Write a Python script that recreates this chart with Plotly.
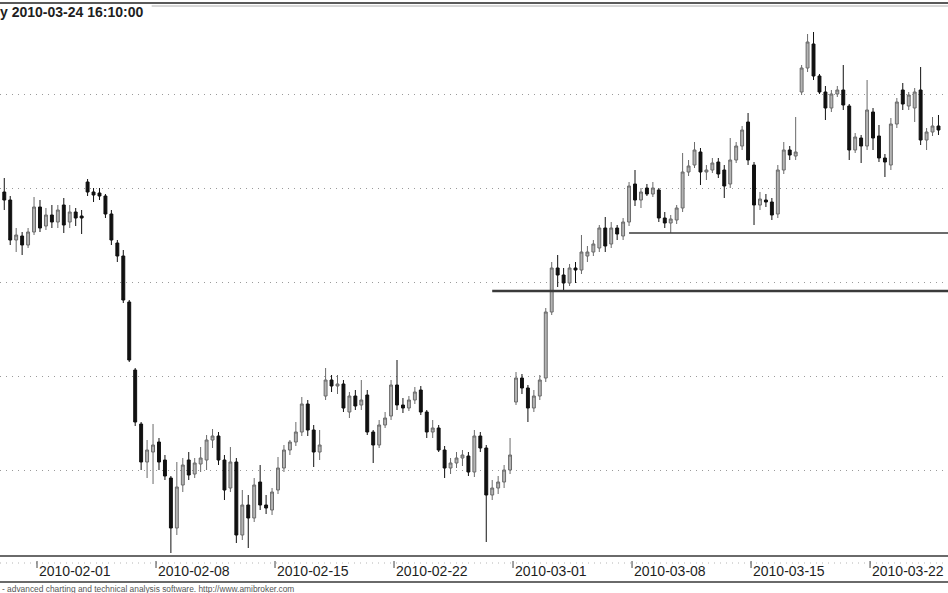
import numpy as np
import pandas as pd
import plotly.graph_objects as go

# ---- data -------------------------------------------------------------
trade_days = pd.bdate_range("2010-01-28", "2010-03-24")
bar_slots = ["10:10", "12:10", "14:10", "16:10"]
stamps = [f"{d:%Y-%m-%d} {s}" for d in trade_days for s in bar_slots][2:]

open_ = [408, 400, 360, 364, 355, 368, 393, 374, 385, 378,
         395, 378, 388, 384, 418, 408, 407, 404, 386, 357,
         344, 298, 230, 176, 138, 148, 158, 140, 122, 72,
         115, 140, 126, 136, 140, 160, 164, 140, 112, 138,
         65, 95, 82, 118, 95, 90, 110, 132, 150, 158,
         168, 196, 170, 148, 204, 220, 214, 216, 188, 204,
         195, 205, 168, 155, 175, 184, 215, 195, 192, 200,
         210, 188, 168, 172, 150, 132, 137, 142, 144, 128,
         164, 152, 105, 112, 118, 130, 198, 222, 212, 192,
         204, 222, 288, 332, 325, 317, 332, 330, 344, 348,
         352, 372, 356, 372, 364, 378, 416, 400, 412, 406,
         410, 382, 377, 380, 392, 428, 435, 448, 428, 430,
         438, 430, 416, 440, 454, 478, 435, 395, 400, 398,
         386, 430, 450, 444, 508, 532, 556, 524, 508, 492,
         506, 510, 494, 450, 462, 454, 488, 464, 442, 435,
         476, 510, 494, 492, 510, 460, 468, 474]
high = [422, 404, 372, 368, 372, 403, 400, 392, 395, 395,
        402, 395, 392, 390, 421, 412, 412, 406, 390, 360,
        350, 300, 232, 178, 160, 176, 162, 145, 124, 138,
        142, 148, 142, 153, 165, 171, 168, 145, 153, 142,
        110, 105, 122, 135, 105, 112, 143, 155, 160, 178,
        203, 200, 175, 170, 232, 225, 225, 220, 208, 210,
        220, 210, 170, 180, 188, 220, 240, 202, 204, 213,
        214, 190, 180, 175, 154, 142, 148, 150, 148, 170,
        168, 155, 120, 124, 135, 162, 228, 226, 215, 210,
        225, 292, 338, 345, 332, 336, 338, 365, 354, 360,
        375, 383, 378, 375, 382, 418, 430, 412, 416, 418,
        412, 388, 385, 395, 447, 440, 458, 452, 435, 442,
        442, 435, 462, 458, 474, 487, 438, 408, 406, 402,
        435, 458, 454, 483, 535, 566, 568, 526, 514, 510,
        514, 535, 496, 467, 465, 520, 492, 475, 446, 482,
        502, 517, 508, 512, 533, 472, 483, 485]
low = [390, 355, 348, 345, 352, 365, 368, 370, 372, 372,
       367, 372, 374, 366, 404, 398, 400, 382, 355, 338,
       297, 238, 174, 130, 122, 116, 130, 120, 47, 65,
       108, 120, 122, 128, 130, 152, 135, 100, 108, 57,
       60, 52, 78, 90, 86, 85, 106, 128, 145, 154,
       164, 164, 133, 140, 200, 208, 206, 188, 182, 190,
       190, 165, 137, 152, 172, 180, 190, 187, 189, 196,
       185, 162, 162, 148, 122, 126, 132, 134, 124, 123,
       148, 58, 100, 106, 112, 126, 195, 206, 178, 188,
       200, 218, 285, 313, 308, 314, 317, 326, 338, 344,
       348, 348, 352, 360, 360, 374, 394, 392, 404, 403,
       378, 372, 367, 376, 388, 424, 432, 415, 420, 427,
       422, 402, 412, 437, 450, 435, 375, 390, 393, 380,
       382, 426, 440, 440, 505, 528, 520, 506, 480, 488,
       503, 490, 440, 447, 437, 450, 450, 438, 423, 430,
       472, 490, 490, 478, 455, 450, 464, 465]
close = [400, 360, 365, 355, 368, 393, 372, 385, 378, 390,
         375, 388, 382, 382, 408, 405, 404, 386, 360, 344,
         300, 240, 178, 138, 150, 155, 138, 124, 72, 113,
         135, 125, 137, 142, 160, 164, 140, 110, 138, 65,
         95, 82, 115, 95, 92, 108, 132, 150, 158, 168,
         196, 170, 148, 155, 220, 214, 216, 192, 204, 194,
         200, 168, 155, 175, 182, 215, 195, 192, 200, 208,
         188, 168, 172, 150, 132, 137, 142, 145, 128, 164,
         152, 105, 112, 118, 130, 145, 222, 212, 192, 204,
         220, 288, 332, 325, 317, 332, 330, 348, 348, 356,
         372, 354, 372, 366, 378, 414, 400, 408, 406, 412,
         382, 377, 381, 392, 428, 434, 450, 428, 430, 437,
         426, 414, 440, 454, 470, 440, 395, 401, 398, 385,
         430, 450, 445, 448, 532, 558, 524, 508, 492, 506,
         510, 495, 450, 463, 454, 490, 462, 442, 438, 476,
         498, 496, 505, 508, 460, 468, 474, 470]

week_labels = ["2010-02-01", "2010-02-08", "2010-02-15", "2010-02-22",
               "2010-03-01", "2010-03-08", "2010-03-15", "2010-03-22"]
level_values = [367, 309]
level_starts = ["2010-03-05 16:10", "2010-02-26 10:10"]
level_widths = [1.3, 2.6]
title_text = "y 2010-03-24 16:10:00"
footer_text = "- advanced charting and technical analysis software. http://www.amibroker.com"

# ---- figure -----------------------------------------------------------
n = len(stamps)
xi = np.arange(n)
W, H = 948, 593
PB = 557  # plot bottom in px

fig = go.Figure()
fig.add_trace(go.Candlestick(
    x=xi, open=open_, high=high, low=low, close=close,
    hovertext=stamps,
    increasing=dict(fillcolor="#b4b4b4", line=dict(color="#6a6a6a", width=1)),
    decreasing=dict(fillcolor="#111111", line=dict(color="#111111", width=1)),
    whiskerwidth=0, showlegend=False,
))

def py(px):
    return (PB - px) / PB

shapes = []
annotations = []
x_end = 158.6
for val, st, lw in zip(level_values, level_starts, level_widths):
    shapes.append(dict(type="line", xref="x", yref="y", x0=stamps.index(st), x1=x_end,
                       y0=val, y1=val, line=dict(color="#3a3a3a", width=lw)))

# frame lines
shapes.append(dict(type="line", xref="paper", yref="paper", x0=0, x1=1, y0=py(3), y1=py(3),
                   line=dict(color="#5a5a5a", width=2)))
shapes.append(dict(type="line", xref="paper", yref="paper", x0=0.16, x1=1, y0=py(6), y1=py(6),
                   line=dict(color="#b0b0b0", width=1)))
shapes.append(dict(type="line", xref="paper", yref="paper", x0=0, x1=1, y0=py(556), y1=py(556),
                   line=dict(color="#6a6a6a", width=2)))
shapes.append(dict(type="line", xref="paper", yref="paper", x0=0, x1=1, y0=py(563), y1=py(563),
                   line=dict(color="#b5b5b5", width=1, dash="1px,5px")))
shapes.append(dict(type="line", xref="paper", yref="paper", x0=0, x1=1, y0=py(582), y1=py(582),
                   line=dict(color="#6a6a6a", width=2)))

for lab in week_labels:
    xpos = stamps.index(lab + " 10:10") - 0.5
    shapes.append(dict(type="line", xref="x", yref="paper", x0=xpos, x1=xpos,
                       y0=py(561), y1=py(568), line=dict(color="#444", width=1)))
    annotations.append(dict(x=xpos, xref="x", y=py(561), yref="paper", text=lab,
                            showarrow=False, xanchor="left", yanchor="top", xshift=0,
                            font=dict(family="Liberation Sans, Arial", size=14, color="#1e1e1e")))

annotations.append(dict(x=0, xref="paper", y=py(2), yref="paper", text="<b>" + title_text + "</b>",
                        showarrow=False, xanchor="left", yanchor="top", xshift=-2,
                        font=dict(family="Liberation Sans, Arial", size=14, color="#1e1e1e")))
annotations.append(dict(x=0, xref="paper", y=py(582), yref="paper", text=footer_text,
                        showarrow=False, xanchor="left", yanchor="top",
                        font=dict(family="Liberation Sans, Arial", size=8.4, color="#555555")))

fig.update_layout(
    width=W, height=H,
    margin=dict(l=0, r=0, t=0, b=H - PB),
    paper_bgcolor="white", plot_bgcolor="white",
    shapes=shapes, annotations=annotations,
    xaxis=dict(range=[-0.72, x_end], showgrid=False, zeroline=False,
               showticklabels=False, ticks="", rangeslider=dict(visible=False)),
    yaxis=dict(range=[43, 600], tick0=130, dtick=94, showticklabels=False,
               showgrid=True, gridcolor="#9a9a9a", gridwidth=1, griddash="1px,5px",
               zeroline=False, ticks=""),
    font=dict(family="Liberation Sans, Arial"),
)

fig.write_html(
    "out.html",
    config={"displayModeBar": False},
    post_script="document.body.style.margin='0';document.body.style.padding='0';"
                "document.body.style.overflow='hidden';",
)
